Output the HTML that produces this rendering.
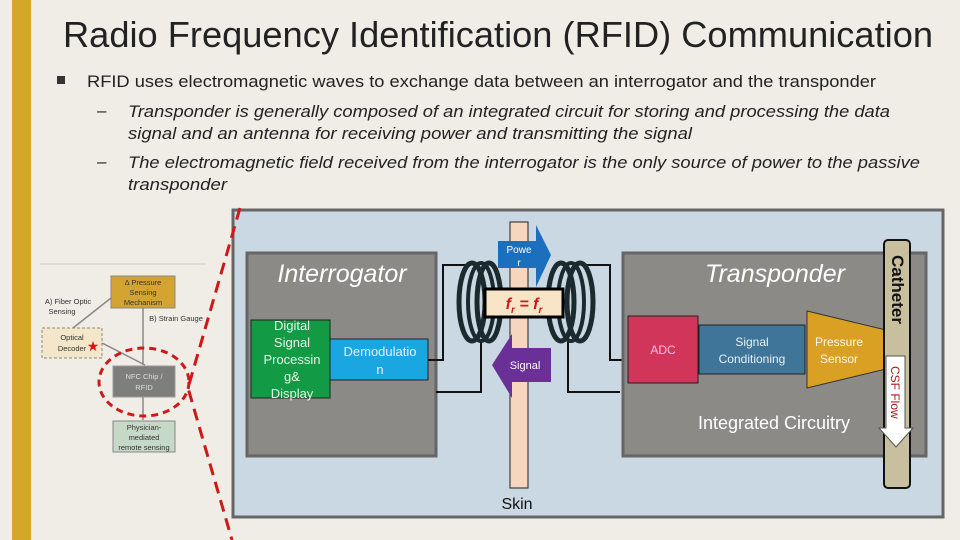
<!DOCTYPE html>
<html><head><meta charset="utf-8"><style>
html,body{margin:0;padding:0;background:#efede6;width:960px;height:540px;overflow:hidden}
svg{display:block}
</style></head><body>
<svg width="960" height="540" xmlns="http://www.w3.org/2000/svg" font-family="Liberation Sans, sans-serif">
<rect width="960" height="540" fill="#efede6"/>
<rect x="12" y="0" width="19" height="540" fill="#d6a62b"/>
<text x="63" y="47" font-size="36" fill="#222" textLength="870" lengthAdjust="spacingAndGlyphs">Radio Frequency Identification (RFID) Communication</text>
<rect x="57" y="76" width="8" height="8" fill="#333"/>
<text x="87" y="87" font-size="17" fill="#222" textLength="789" lengthAdjust="spacingAndGlyphs">RFID uses electromagnetic waves to exchange data between an interrogator and the transponder</text>
<g font-size="17" font-style="italic" fill="#222">
<text x="97" y="116">–</text>
<text x="128" y="117" textLength="762" lengthAdjust="spacingAndGlyphs">Transponder is generally composed of an integrated circuit for storing and processing the data</text>
<text x="128" y="139" textLength="564" lengthAdjust="spacingAndGlyphs">signal and an antenna for receiving power and transmitting the signal</text>
<text x="97" y="167">–</text>
<text x="128" y="168" textLength="792" lengthAdjust="spacingAndGlyphs">The electromagnetic field received from the interrogator is the only source of power to the passive</text>
<text x="128" y="190" textLength="99" lengthAdjust="spacingAndGlyphs">transponder</text>
</g>
<!-- inset -->
<line x1="40" y1="264" x2="205" y2="264" stroke="#dcdcd6" stroke-width="2"/>
<line x1="111" y1="298" x2="73" y2="328" stroke="#888" stroke-width="1.5"/>
<line x1="143" y1="308" x2="143" y2="365" stroke="#888" stroke-width="1.5"/>
<line x1="102" y1="343" x2="145" y2="365" stroke="#888" stroke-width="1.5"/>
<line x1="143" y1="397" x2="143" y2="420" stroke="#888" stroke-width="1.5"/>
<rect x="111" y="276" width="64" height="32" fill="#d4a432" stroke="#888"/>
<g font-size="7.5" fill="#333" text-anchor="middle">
<text x="143" y="285">Δ Pressure</text><text x="143" y="295">Sensing</text><text x="143" y="305">Mechanism</text>
<text x="68" y="304">A) Fiber Optic</text><text x="62" y="314">Sensing</text>
<text x="176" y="321">B) Strain Gauge</text>
</g>
<rect x="42" y="328" width="60" height="30" fill="#f4e6c8" stroke="#888" stroke-dasharray="3,2"/>
<g font-size="7.5" fill="#333" text-anchor="middle"><text x="72" y="340">Optical</text><text x="72" y="351">Decoder</text></g>
<text x="93" y="351" font-size="14" fill="#e01010" text-anchor="middle">★</text>
<rect x="113" y="366" width="62" height="31" fill="#7e7e7c" stroke="#999"/>
<g font-size="7.5" fill="#ddd" text-anchor="middle"><text x="144" y="379">NFC Chip /</text><text x="144" y="390">RFID</text></g>
<rect x="113" y="421" width="62" height="31" fill="#c6d8c6" stroke="#888"/>
<g font-size="7.5" fill="#333" text-anchor="middle"><text x="144" y="430">Physician-</text><text x="144" y="440">mediated</text><text x="144" y="450">remote sensing</text></g>
<ellipse cx="144" cy="382" rx="45" ry="34" fill="none" stroke="#d01818" stroke-width="3" stroke-dasharray="7,5"/>
<!-- diagram panel -->
<rect x="233" y="210" width="710" height="307" fill="#c9d8e2" stroke="#666" stroke-width="3"/>
<polyline points="240,208 188,388 232,540" fill="none" stroke="#d01818" stroke-width="3" stroke-dasharray="12,7"/>
<!-- interrogator -->
<rect x="247" y="253" width="189" height="203" fill="#8b8a86" stroke="#666" stroke-width="3"/>
<text x="342" y="282" font-size="25" font-style="italic" fill="#fff" text-anchor="middle">Interrogator</text>
<rect x="251" y="320" width="79" height="78" fill="#129a45" stroke="#222"/>
<g font-size="13" fill="#e8f6e8" text-anchor="middle"><text x="292" y="330">Digital</text><text x="292" y="347">Signal</text><text x="292" y="364">Processin</text><text x="292" y="381">g&amp;</text><text x="292" y="398">Display</text></g>
<rect x="330" y="339" width="98" height="41" fill="#1aa6e0" stroke="#222"/>
<g font-size="13" fill="#eef" text-anchor="middle"><text x="380" y="356">Demodulatio</text><text x="380" y="374">n</text></g>
<!-- wires -->
<g fill="none" stroke="#111" stroke-width="2">
<polyline points="428,360 443,360 443,265 470,265"/>
<polyline points="436,392 481,392 481,340"/>
<polyline points="585,265 610,265 610,360 628,360"/>
<polyline points="568,340 568,392 620,392"/>
</g>
<!-- skin -->
<rect x="510" y="222" width="18" height="266" fill="#f7d6bd" stroke="#222"/>
<text x="517" y="509" font-size="16" fill="#111" text-anchor="middle">Skin</text>
<!-- coils -->
<g fill="none" stroke="#1a2a2e">
<ellipse cx="472" cy="302" rx="13" ry="39" stroke-width="5"/>
<ellipse cx="481" cy="302" rx="13" ry="39" stroke-width="4"/>
<ellipse cx="489" cy="302" rx="12" ry="39" stroke-width="5"/>
<ellipse cx="561" cy="302" rx="13" ry="39" stroke-width="5"/>
<ellipse cx="571" cy="302" rx="13" ry="39" stroke-width="4"/>
<ellipse cx="580" cy="302" rx="13" ry="39" stroke-width="5"/>
</g>
<!-- power arrow -->
<polygon points="498,241 536,241 536,225 551,255 536,287 536,268 498,268" fill="#1c6fbd"/>
<g font-size="10" fill="#fff" text-anchor="middle"><text x="519" y="253">Powe</text><text x="519" y="266">r</text></g>
<!-- signal arrow -->
<polygon points="551,348 512,348 512,334 492,365 512,398 512,382 551,382" fill="#6a3098"/>
<text x="525" y="369" font-size="11" fill="#fff" text-anchor="middle">Signal</text>
<!-- fr box -->
<rect x="485" y="289" width="78" height="28" fill="#f8e5c8" stroke="#000" stroke-width="3"/>
<text x="524" y="309" font-size="16" font-weight="bold" font-style="italic" fill="#d01818" text-anchor="middle">f<tspan font-size="10" dy="4">r</tspan><tspan dy="-4"> = f</tspan><tspan font-size="10" dy="4">r</tspan></text>
<!-- transponder -->
<rect x="623" y="253" width="303" height="203" fill="#8b8a86" stroke="#666" stroke-width="3"/>
<text x="775" y="282" font-size="25" font-style="italic" fill="#fff" text-anchor="middle">Transponder</text>
<rect x="628" y="316" width="70" height="67" fill="#d1365a" stroke="#222"/>
<text x="663" y="354" font-size="12" fill="#fbe" text-anchor="middle">ADC</text>
<rect x="699" y="325" width="106" height="49" fill="#3e7598" stroke="#222"/>
<g font-size="12" fill="#e8f0f8" text-anchor="middle"><text x="752" y="346">Signal</text><text x="752" y="363">Conditioning</text></g>
<polygon points="807,311 886,330 886,369 807,388" fill="#d9a024" stroke="#333"/>
<g font-size="12" fill="#fff8e0" text-anchor="middle"><text x="839" y="346">Pressure</text><text x="839" y="363">Sensor</text></g>
<text x="774" y="429" font-size="18" fill="#fff" text-anchor="middle">Integrated Circuitry</text>
<!-- catheter -->
<rect x="884" y="240" width="26" height="248" rx="4" fill="#c8bf9f" stroke="#111" stroke-width="2"/>
<text transform="translate(892,255) rotate(90)" font-size="17" font-weight="bold" fill="#111">Catheter</text>
<polygon points="886,356 905,356 905,428 913,428 896,447 879,428 886,428" fill="#fff" stroke="#555"/>
<text transform="translate(891,366) rotate(90)" font-size="12" fill="#b01818">CSF Flow</text>
</svg>
</body></html>
